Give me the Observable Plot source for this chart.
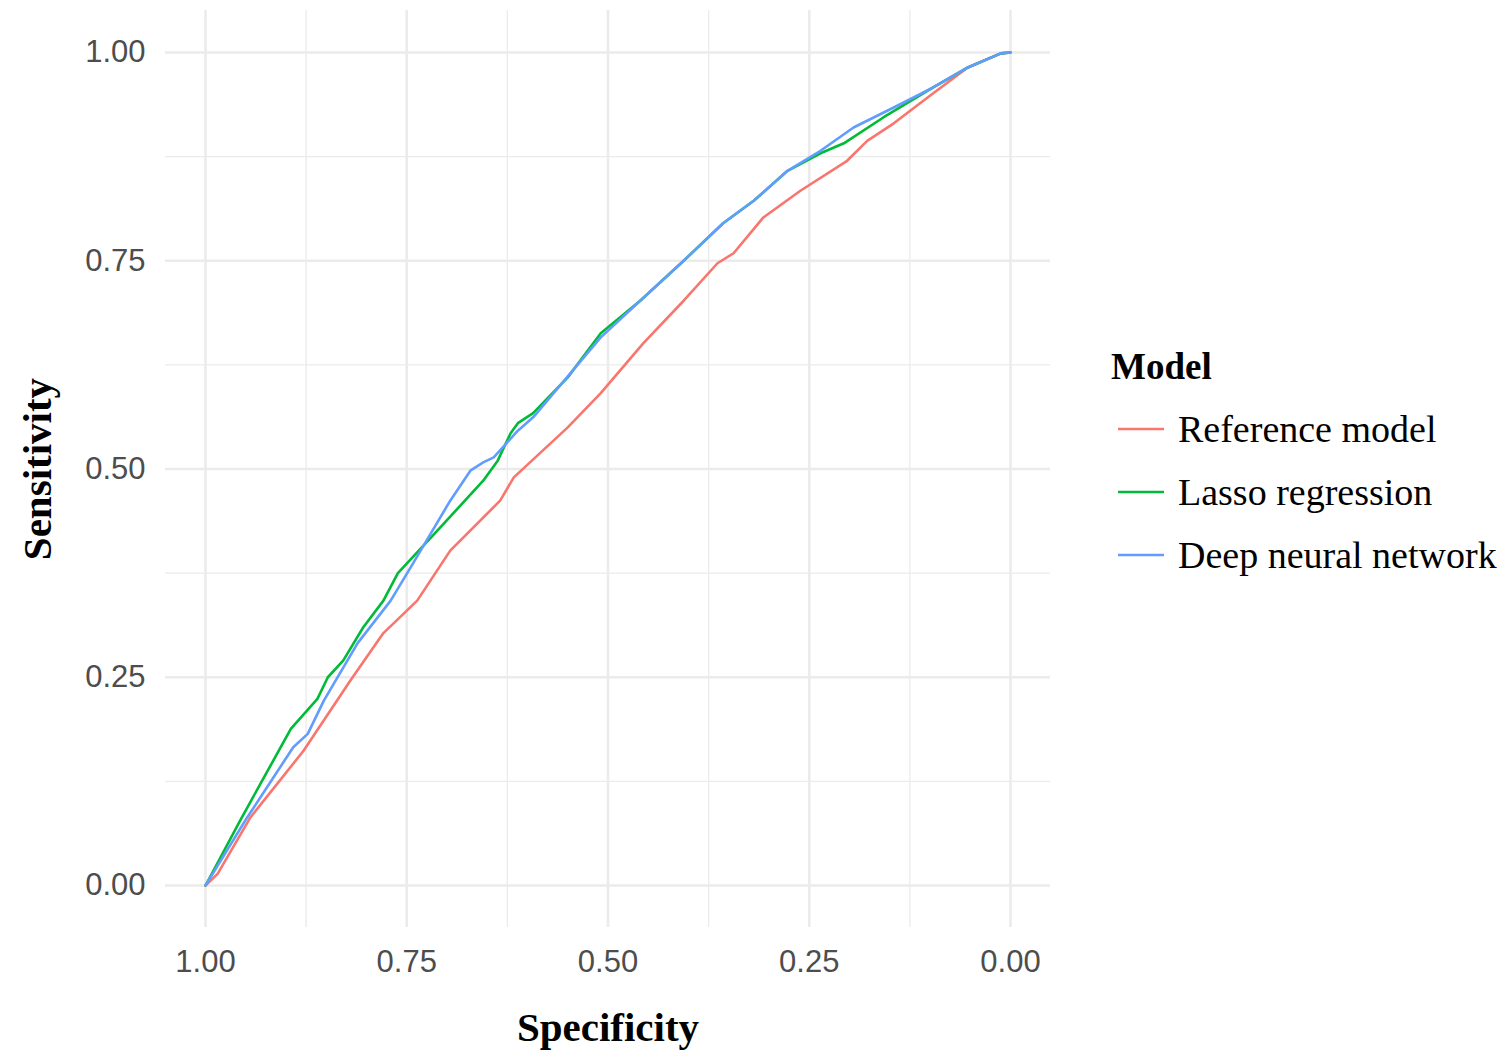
<!DOCTYPE html>
<html>
<head>
<meta charset="utf-8">
<script src="https://cdn.jsdelivr.net/npm/d3@7"></script>
<script src="https://cdn.jsdelivr.net/npm/@observablehq/plot@0.6"></script>
<style>
  html, body { margin: 0; padding: 0; background: #fff; }
  #wrap { position: relative; width: 1511px; height: 1053px; overflow: hidden; }
  #legend { position: absolute; left: 1111px; top: 346px; font-family: "Liberation Serif", "Times New Roman", serif; color: #000; }
  #legend .title { font-weight: bold; font-size: 37px; line-height: 42px; margin-bottom: 9px; }
  #legend .item { display: flex; align-items: center; height: 63px; font-size: 38px; }
  #legend svg { margin-left: 7px; margin-right: 14px; }
</style>
</head>
<body>
<div id="wrap"><div id="chart"></div><div id="legend"></div></div>
<script>
// ---- data ----
const models = ["Reference model", "Lasso regression", "Deep neural network"];
const colors = ["#F8766D", "#00BA38", "#619CFF"];

const refSpec  = [1, 0.985, 0.944, 0.878, 0.820, 0.779, 0.737, 0.696, 0.634, 0.617, 0.550, 0.509, 0.456, 0.406, 0.364, 0.344, 0.307, 0.261, 0.203, 0.178, 0.145, 0.096, 0.053, 0.012, 0];
const refSens  = [0, 0.014, 0.082, 0.162, 0.246, 0.303, 0.342, 0.402, 0.462, 0.490, 0.550, 0.591, 0.651, 0.702, 0.747, 0.759, 0.802, 0.834, 0.870, 0.894, 0.915, 0.951, 0.982, 0.999, 1];

const lassoSpec = [1, 0.957, 0.894, 0.861, 0.848, 0.829, 0.804, 0.779, 0.761, 0.712, 0.655, 0.637, 0.621, 0.612, 0.593, 0.550, 0.509, 0.460, 0.406, 0.357, 0.319, 0.277, 0.236, 0.207, 0.158, 0.096, 0.053, 0.012, 0];
const lassoSens = [0, 0.078, 0.188, 0.224, 0.250, 0.270, 0.310, 0.342, 0.375, 0.426, 0.486, 0.510, 0.543, 0.555, 0.567, 0.610, 0.663, 0.702, 0.750, 0.795, 0.822, 0.858, 0.879, 0.891, 0.922, 0.958, 0.982, 0.999, 1];

const dnnSpec = [1, 0.948, 0.891, 0.873, 0.853, 0.811, 0.770, 0.742, 0.696, 0.671, 0.655, 0.642, 0.612, 0.593, 0.509, 0.460, 0.406, 0.357, 0.319, 0.277, 0.236, 0.195, 0.145, 0.096, 0.053, 0.012, 0];
const dnnSens = [0, 0.082, 0.166, 0.182, 0.222, 0.291, 0.342, 0.387, 0.462, 0.498, 0.508, 0.514, 0.546, 0.562, 0.658, 0.702, 0.750, 0.795, 0.822, 0.858, 0.882, 0.910, 0.934, 0.958, 0.982, 0.999, 1];

const majorTicks = [0, 0.25, 0.5, 0.75, 1];
const minorTicks = [0.125, 0.375, 0.625, 0.875];

// ---- build table ----
const series = [[refSpec, refSens], [lassoSpec, lassoSens], [dnnSpec, dnnSens]];
const rows = [];
series.forEach(([sp, se], i) => sp.forEach((s, j) => rows.push({model: models[i], spec: s, sens: se[j]})));

const chart = Plot.plot({
  width: 1090,
  height: 1053,
  marginLeft: 165,
  marginRight: 40,
  marginTop: 10,
  marginBottom: 126,
  style: {background: "#fff"},
  x: {domain: [1, 0], insetLeft: 40, insetRight: 40},
  y: {domain: [0, 1], insetTop: 42, insetBottom: 42},
  color: {domain: models, range: colors},
  marks: [
    Plot.gridX(minorTicks, {stroke: "#ebebeb", strokeOpacity: 1, strokeWidth: 1.3}),
    Plot.gridY(minorTicks, {stroke: "#ebebeb", strokeOpacity: 1, strokeWidth: 1.3}),
    Plot.gridX(majorTicks, {stroke: "#ebebeb", strokeOpacity: 1, strokeWidth: 2.6}),
    Plot.gridY(majorTicks, {stroke: "#ebebeb", strokeOpacity: 1, strokeWidth: 2.6}),
    Plot.axisX(majorTicks, {tickSize: 0, tickPadding: 22, tickFormat: d3.format(".2f"), fontSize: 31, fill: "#4d4d4d", fontFamily: "Liberation Sans, Arial, sans-serif", label: null}),
    Plot.axisY(majorTicks, {tickSize: 0, tickPadding: 20, tickFormat: d3.format(".2f"), fontSize: 31, fill: "#4d4d4d", fontFamily: "Liberation Sans, Arial, sans-serif", label: null}),
    Plot.line(rows, {x: "spec", y: "sens", z: "model", stroke: "model", strokeWidth: 2.6, curve: "linear"}),
    Plot.text(["Specificity"], {frameAnchor: "bottom", textAnchor: "middle", lineAnchor: "middle", dy: 100, fontSize: 41, fontWeight: "bold", fontFamily: "Liberation Serif, Times New Roman, serif", fill: "#000"}),
    Plot.text(["Sensitivity"], {frameAnchor: "left", textAnchor: "middle", lineAnchor: "middle", dx: -128, rotate: -90, fontSize: 41, fontWeight: "bold", fontFamily: "Liberation Serif, Times New Roman, serif", fill: "#000"})
  ]
});
document.getElementById("chart").appendChild(chart);

// ---- legend ----
const leg = document.getElementById("legend");
const t = document.createElement("div");
t.className = "title";
t.textContent = "Model";
leg.appendChild(t);
models.forEach((m, i) => {
  const it = document.createElement("div");
  it.className = "item";
  it.innerHTML = `<svg width="46" height="10"><line x1="0" x2="46" y1="5" y2="5" stroke="${colors[i]}" stroke-width="2.6"/></svg><span>${m}</span>`;
  leg.appendChild(it);
});
</script>
</body>
</html>
